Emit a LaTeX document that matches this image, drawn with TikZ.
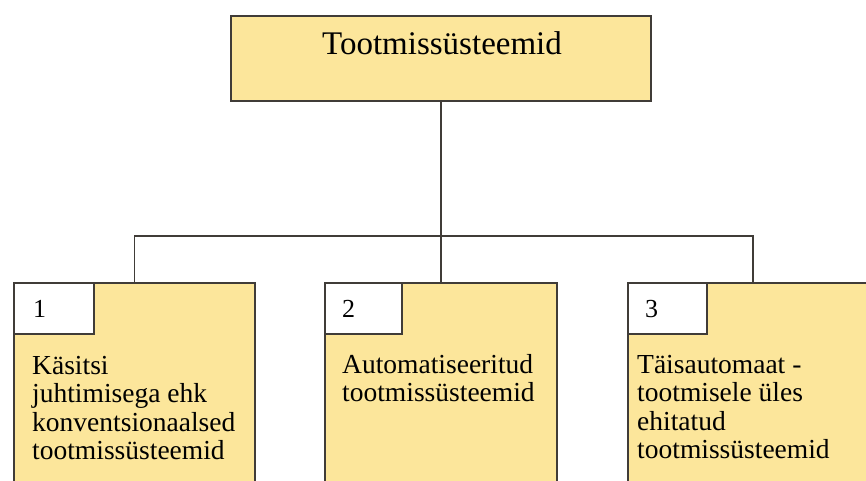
\documentclass[tikz,border=0pt]{standalone}
\usepackage{fontspec}
\setmainfont{Liberation Serif}
\definecolor{boxfill}{RGB}{252,230,155}
\definecolor{edgecol}{RGB}{64,60,56}
\newcommand\firststrut{\rule{0pt}{20pt}}
\begin{document}
\begin{tikzpicture}[x=1pt,y=-1pt,
  box/.style={draw=edgecol, line width=1.5pt, fill=boxfill, rectangle, inner sep=0, anchor=north west},
  numbox/.style={draw=edgecol, line width=1.5pt, fill=white, rectangle, inner sep=0, anchor=north west},
  conn/.style={draw=edgecol, line width=1.5pt},
  txt/.style={anchor=north west, inner sep=0, align=left, font=\fontsize{27.5}{28.5}\selectfont},
  num/.style={anchor=base west, inner sep=0, font=\fontsize{26}{26}\selectfont},
]
\useasboundingbox (0,0) rectangle (866,480);
\clip (0,0) rectangle (866,480);
\fill[white] (0,0) rectangle (866,480);

% boxes
\node[box, minimum width=420, minimum height=85] (top) at (230,15) {};
\node[box, minimum width=241, minimum height=215] (b1) at (13,282) {};
\node[box, minimum width=232, minimum height=215] (b2) at (324,282) {};
\node[box, minimum width=250, minimum height=215] (b3) at (627,282) {};
\node[numbox, minimum width=80, minimum height=51] (n1) at (13,282) {};
\node[numbox, minimum width=77, minimum height=51] (n2) at (324,282) {};
\node[numbox, minimum width=79, minimum height=51] (n3) at (627,282) {};

% connectors
\coordinate (bus) at (440,236);
\draw[conn] (top.south) -- (b2.north);
\draw[conn] (b1.north) |- (bus) -| (b3.north);

% texts
\node[anchor=base, inner sep=0, font=\fontsize{33}{33}\selectfont] (title) at (442,54) {Tootmissüsteemid};
\node[num] (d1) at (33,317) {1};
\node[num] (d2) at (342,317) {2};
\node[num] (d3) at (645,317) {3};
\node[txt] (t1) at (32,354) {\firststrut Käsitsi\\juhtimisega ehk\\konventsionaalsed\\tootmissüsteemid};
\node[txt] (t2) at (342,353) {\firststrut Automatiseeritud\\tootmissüsteemid};
\node[txt] (t3) at (637,353) {\firststrut Täisautomaat -\\tootmisele üles\\ehitatud\\tootmissüsteemid};
\end{tikzpicture}
\end{document}
